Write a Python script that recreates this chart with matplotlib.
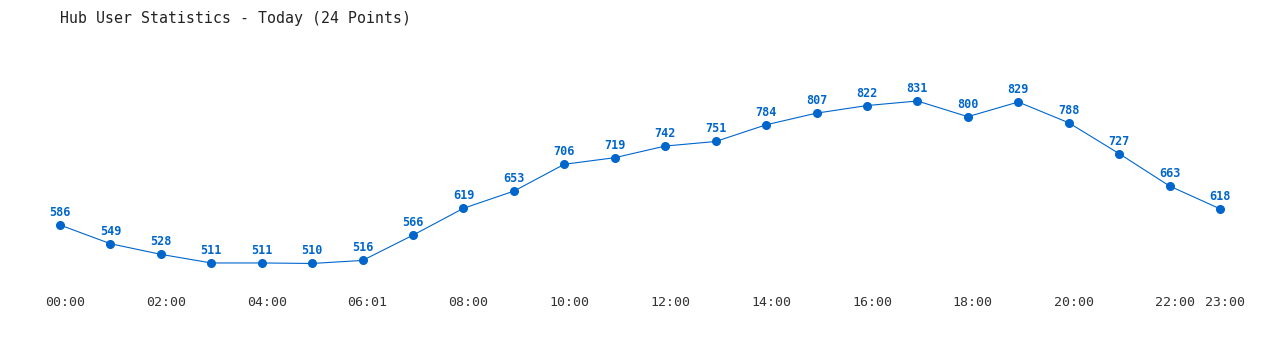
import matplotlib
matplotlib.use("Agg")
import matplotlib.pyplot as plt
from matplotlib.transforms import blended_transform_factory, offset_copy

values = [586, 549, 528, 511, 511, 510, 516, 566, 619, 653, 706, 719,
          742, 751, 784, 807, 822, 831, 800, 829, 788, 727, 663, 618]
tick_positions = [0, 2, 4, 6, 8, 10, 12, 14, 16, 18, 20, 22, 23]
tick_labels = ["00:00", "02:00", "04:00", "06:01", "08:00", "10:00", "12:00",
               "14:00", "16:00", "18:00", "20:00", "22:00", "23:00"]
title = "Hub User Statistics - Today (24 Points)"

W, H = 1280, 350
fig = plt.figure(figsize=(W / 100, H / 100), dpi=100)
fig.patch.set_facecolor("white")
ax = fig.add_axes([0, 0, 1, 1])
ax.set_axis_off()

# pixel mapping
x0_px, dx_px = 60.0, (1220.0 - 60.0) / 23
y_ref_px, y_ref_v, scale = 225.0, 586.0, 124.0 / 245.0
ax.set_xlim(-x0_px / dx_px, (W - x0_px) / dx_px)
ax.set_ylim(y_ref_v - (H - y_ref_px) / scale, y_ref_v + y_ref_px / scale)

blue = "#0066cc"
xs = list(range(len(values)))
ax.plot(xs, values, color=blue, lw=0.8, marker="o", ms=5.5, mec=blue, mfc=blue)
for x, v in zip(xs, values):
    ax.annotate(str(v), (x, v), xytext=(0, 9), textcoords="offset points",
                ha="center", va="center", color=blue, fontsize=8.5,
                fontweight="bold", family="DejaVu Sans Mono")

tr = blended_transform_factory(ax.transData, fig.transFigure)
tr = offset_copy(tr, fig=fig, x=5, y=0, units="dots")
for p, lab in zip(tick_positions, tick_labels):
    ax.text(p, 1 - 303 / H, lab, transform=tr, ha="center", va="center",
            fontsize=9.5, color="#333333", family="DejaVu Sans Mono")

fig.text(60 / W, 1 - 18 / H, title, ha="left", va="center", fontsize=10.7,
         color="#222222", family="DejaVu Sans Mono")

fig.savefig("out.png", dpi=100, facecolor="white")
